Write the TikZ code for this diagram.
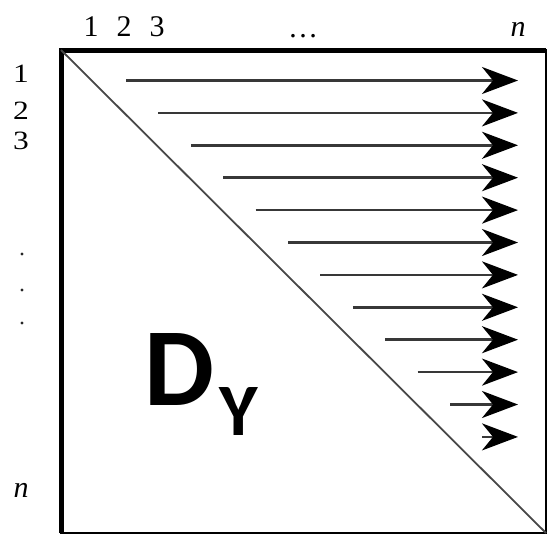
\documentclass[tikz,border=0pt]{standalone}
\usepackage{fontspec}
\usepackage{graphicx}
\setmainfont{Liberation Serif}
\newfontfamily\dyfont{Carlito}
\usetikzlibrary{arrows.meta}
\tikzset{
  lbl/.style={font=\fontsize{30}{30}\selectfont, inner sep=0pt, anchor=base},
  dylbl/.style={font=\dyfont\bfseries\fontsize{#1}{#1}\selectfont, inner sep=0pt, anchor=base west},
  frame/.style={line width=2.5pt, draw=black},
  thickframe/.style={line width=5pt, draw=black, line join=miter},
  diag/.style={line width=1.8pt, draw=black!72},
  arr/.style={line width=2.6pt, draw=black!78,
    -{Stealth[length=36pt, width=27pt, inset=11pt, color=black, fill=black]}},
  vdot/.style={fill=black!85}
}
\begin{document}
\begin{tikzpicture}[x=1pt,y=-1pt]
\useasboundingbox (0,0) rectangle (548,536);
% frame
\coordinate (tl) at (61,50);
\coordinate (tr) at (546,50);
\coordinate (bl) at (61,533);
\coordinate (br) at (546,533);
\draw[frame] (tl) rectangle (br);
\draw[thickframe] (bl) -- (tl) -- (tr);
\draw[diag] (tl) -- (br);
% arrows
\foreach \k in {0,...,11} {
  \coordinate (s\k) at ({126+32.4*\k},{80.5+32.4*\k});
  \coordinate (e\k) at (518,{80.5+32.4*\k});
  \draw[arr] (s\k) -- (e\k);
}
% column labels
\node[lbl] (c1) at (91,36) {1};
\node[lbl] (c2) at (124,36) {2};
\node[lbl] (c3) at (157,36) {3};
\node[lbl] (cdots) at (303,37) {…};
\node[lbl] (cn) at (518,36) {\itshape n};
% row labels
\node[lbl] (r1) at (21,82.5) {\scalebox{1.05}[0.88]{1}};
\node[lbl] (r2) at (21,119) {\scalebox{1.05}[0.88]{2}};
\node[lbl] (r3) at (21,149) {\scalebox{1.05}[0.88]{3}};
\fill[vdot] (22,254) circle (1.7);
\fill[vdot] (22,290) circle (1.7);
\fill[vdot] (22,323) circle (1.7);
\node[lbl] (rn) at (21,497) {\itshape n};
% D_Y
\node[dylbl=111] (D) at (144,405) {D};
\node[dylbl=74] (Y) at (219,435) {Y};
\end{tikzpicture}
\end{document}
